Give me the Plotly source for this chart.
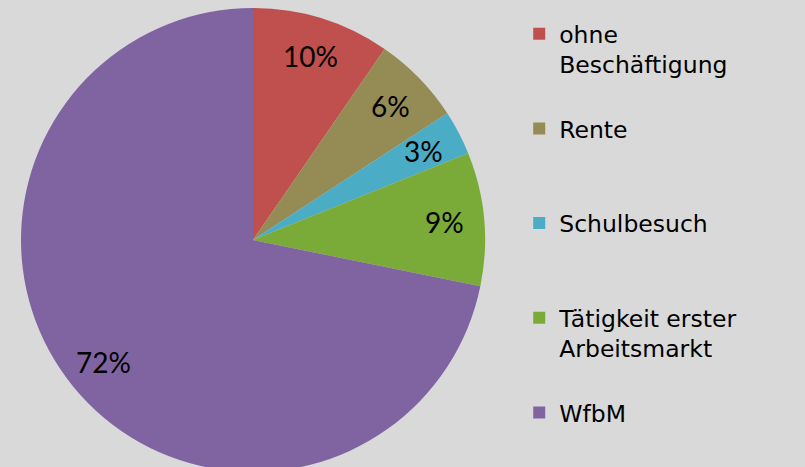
import math
import plotly.graph_objects as go

labels = ["ohne<br>Beschäftigung", "Rente", "Schulbesuch", "Tätigkeit erster<br>Arbeitsmarkt", "WfbM"]
values = [9.6, 6.2, 3.1, 9.3, 71.8]
colors = ["#C0504D", "#958B55", "#4BACC6", "#7AAB39", "#8064A2"]

W, H = 805, 480
CX, CY, R = 253, 240, 232          # pie centre / radius in pixels
LABEL_R = 0.83                      # relative radius of the percentage labels

# pad legend entries to 3 lines so that entries are evenly spaced (last one needs none)
legend_labels = []
for i, l in enumerate(labels):
    n = l.count("<br>") + 1
    pad = 0 if i == len(labels) - 1 else 3 - n
    legend_labels.append(l + "<br> " * pad)

fig = go.Figure(go.Pie(
    labels=legend_labels,
    values=values,
    sort=False,
    direction="clockwise",
    rotation=0,
    marker=dict(colors=colors, line=dict(width=0)),
    textinfo="none",
    domain=dict(x=[(CX - R) / W, (CX + R) / W], y=[(H - CY - R) / H, (H - CY + R) / H]),
    hoverinfo="label+percent",
))

# percentage labels placed along each slice's mid-angle
total = sum(values)
cum = 0.0
for v in values:
    mid = (cum + v / 2) / total
    cum += v
    th = 2 * math.pi * mid
    px = CX + LABEL_R * R * math.sin(th)
    py = CY - LABEL_R * R * math.cos(th)
    fig.add_annotation(
        x=px / W, y=1 - py / H, xref="paper", yref="paper",
        text=f"{round(v / total * 100)}%", showarrow=False,
        font=dict(family="Lato", size=28, color="#000000"),
        xanchor="center", yanchor="middle",
    )

fig.update_layout(
    width=W, height=H,
    margin=dict(l=0, r=0, t=0, b=0),
    paper_bgcolor="#D9D9D9",
    plot_bgcolor="#D9D9D9",
    showlegend=True,
    legend=dict(
        x=0.645, y=1 - 12 / H, xanchor="left", yanchor="top",
        valign="top",
        font=dict(family="DejaVu Sans", size=23.5, color="#000000"),
        bgcolor="rgba(0,0,0,0)",
        traceorder="normal",
    ),
)

fig.write_html(
    "out.html",
    config={"displayModeBar": False},
    post_script="document.body.style.margin='0';document.body.style.overflow='hidden';",
)
